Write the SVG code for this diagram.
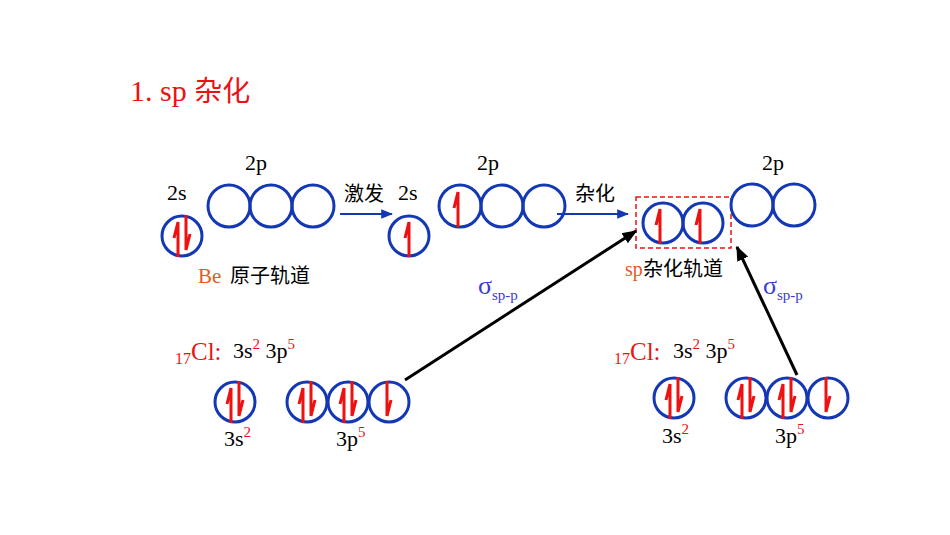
<svg xmlns="http://www.w3.org/2000/svg" width="950" height="535" viewBox="0 0 950 535">
<style>
.o{fill:none;stroke:#1438b4;stroke-width:3}
.e{fill:none;stroke:#ee1111;stroke-width:3;stroke-linejoin:miter}
.t{font-family:"Liberation Serif",serif;font-size:22px;fill:#000}
.c{font-family:"Noto Sans CJK SC",sans-serif;font-size:20px;fill:#000}
.r{fill:#ee1111}
.b{fill:#3b3bd0}
</style>
<defs>
<marker id="ab" viewBox="0 0 10 10" refX="9" refY="5" markerWidth="6" markerHeight="6" orient="auto"><path d="M0,1 L10,5 L0,9 z" fill="#1438b4"/></marker>
<marker id="ak" viewBox="0 0 10 10" refX="9" refY="5" markerWidth="5" markerHeight="5" orient="auto"><path d="M0,1 L10,5 L0,9 z" fill="#000"/></marker>
<path id="up" d="M0,21 V-14 L-4,2"/>
<path id="dn" d="M0,-21 V14 L4,-2"/>
</defs>
<rect width="950" height="535" fill="#fff"/>
<text x="130" y="101" font-family="Liberation Serif,Noto Sans CJK SC,serif" font-size="30" fill="#ee1111">1.  sp <tspan font-family="Noto Sans CJK SC,sans-serif" font-size="28">杂化</tspan></text>

<g id="be">
<circle class="o" cx="182" cy="236" r="20"/>
<use href="#up" class="e" x="178" y="236"/><use href="#dn" class="e" x="186" y="236"/>
<circle class="o" cx="229" cy="206" r="21"/><circle class="o" cx="271" cy="206" r="21"/><circle class="o" cx="313" cy="206" r="21"/>
<text class="t" x="167" y="200">2s</text><text class="t" x="245" y="170">2p</text>
<text x="198" y="283" font-family="Liberation Serif,serif" font-size="21" fill="#e65a1e">Be</text><text class="c" x="230" y="283">原子轨道</text>
</g>
<g id="excited">
<circle class="o" cx="409" cy="236" r="20"/><use href="#up" class="e" x="409" y="236"/>
<circle class="o" cx="460" cy="206" r="21"/><use href="#up" class="e" x="458" y="206"/>
<circle class="o" cx="502" cy="206" r="21"/><circle class="o" cx="544" cy="206" r="21"/>
<text class="t" x="398" y="200">2s</text><text class="t" x="477" y="170">2p</text>
</g>
<g id="hybrid">
<rect x="636" y="197" width="95" height="51" fill="none" stroke="#ee1111" stroke-width="1.5" stroke-dasharray="5,3"/>
<circle class="o" cx="663" cy="223" r="20"/><use href="#up" class="e" x="660" y="223"/>
<circle class="o" cx="703" cy="223" r="20"/><use href="#up" class="e" x="700" y="223"/>
<circle class="o" cx="752" cy="205" r="21"/><circle class="o" cx="794" cy="205" r="21"/>
<text class="t" x="762" y="170">2p</text>
<text x="625" y="276" font-family="Liberation Serif,serif" font-size="20" fill="#e65a1e">sp</text><text class="c" x="643" y="276">杂化轨道</text>
</g>
<g id="cl1">
<text x="175" y="360" font-family="Liberation Serif,serif" font-size="25" class="r"><tspan font-size="16" dy="4">17</tspan><tspan dy="-4">Cl:</tspan></text>
<text class="t" x="233" y="358">3s<tspan class="r" font-size="15" dy="-9">2</tspan><tspan dy="9"> 3p</tspan><tspan class="r" font-size="15" dy="-9">5</tspan></text>
<circle class="o" cx="235" cy="402" r="20"/><use href="#up" class="e" x="231" y="402"/><use href="#dn" class="e" x="239" y="402"/>
<circle class="o" cx="307" cy="402" r="20"/><use href="#up" class="e" x="303" y="402"/><use href="#dn" class="e" x="311" y="402"/>
<circle class="o" cx="348" cy="402" r="20"/><use href="#up" class="e" x="344" y="402"/><use href="#dn" class="e" x="352" y="402"/>
<circle class="o" cx="389" cy="402" r="20"/><use href="#dn" class="e" x="387" y="402"/>
<text class="t" x="224" y="446">3s<tspan class="r" font-size="15" dy="-9">2</tspan></text>
<text class="t" x="336" y="446">3p<tspan class="r" font-size="15" dy="-9">5</tspan></text>
</g>
<g id="cl2">
<text x="614" y="360" font-family="Liberation Serif,serif" font-size="25" class="r"><tspan font-size="16" dy="4">17</tspan><tspan dy="-4">Cl:</tspan></text>
<text class="t" x="673" y="358">3s<tspan class="r" font-size="15" dy="-9">2</tspan><tspan dy="9"> 3p</tspan><tspan class="r" font-size="15" dy="-9">5</tspan></text>
<circle class="o" cx="674" cy="398" r="20"/><use href="#up" class="e" x="670" y="398"/><use href="#dn" class="e" x="678" y="398"/>
<circle class="o" cx="746" cy="398" r="20"/><use href="#up" class="e" x="742" y="398"/><use href="#dn" class="e" x="750" y="398"/>
<circle class="o" cx="787" cy="398" r="20"/><use href="#up" class="e" x="783" y="398"/><use href="#dn" class="e" x="791" y="398"/>
<circle class="o" cx="828" cy="398" r="20"/><use href="#dn" class="e" x="826" y="398"/>
<text class="t" x="662" y="443">3s<tspan class="r" font-size="15" dy="-9">2</tspan></text>
<text class="t" x="775" y="443">3p<tspan class="r" font-size="15" dy="-9">5</tspan></text>
</g>
<g id="connectors">
<line x1="340" y1="214" x2="392" y2="214" stroke="#1438b4" stroke-width="2" marker-end="url(#ab)"/>
<text class="c" x="344" y="201">激发</text>
<line x1="557" y1="214" x2="628" y2="214" stroke="#1438b4" stroke-width="2" marker-end="url(#ab)"/>
<text class="c" x="575" y="201">杂化</text>
<line x1="405" y1="380" x2="636" y2="231" stroke="#000" stroke-width="3" marker-end="url(#ak)"/>
<line x1="797" y1="375" x2="737" y2="247" stroke="#000" stroke-width="3" marker-end="url(#ak)"/>
<text x="478" y="294" font-family="Liberation Serif,serif" font-size="26" class="b">σ<tspan font-size="15" dy="6">sp-p</tspan></text>
<text x="763" y="294" font-family="Liberation Serif,serif" font-size="26" class="b">σ<tspan font-size="15" dy="6">sp-p</tspan></text>
</g>
</svg>
